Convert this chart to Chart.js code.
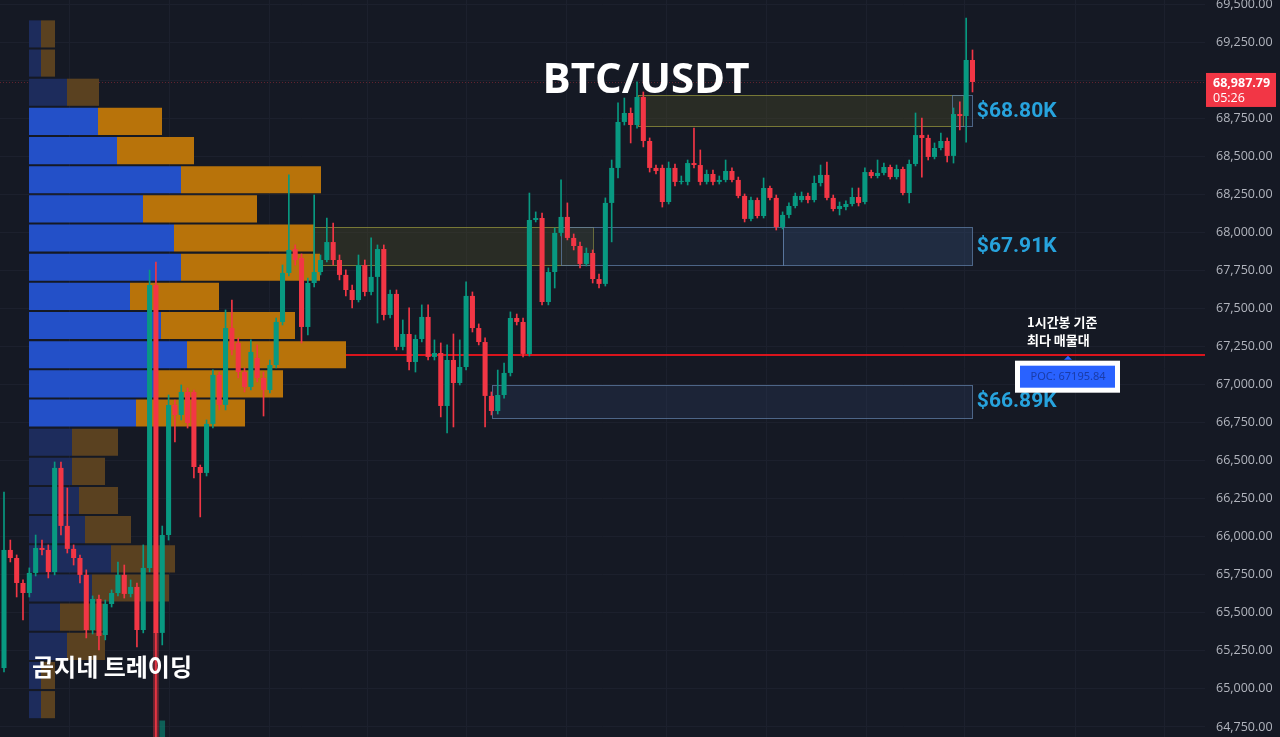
<!DOCTYPE html>
<html>
<head>
<meta charset="utf-8">
<title>BTC/USDT</title>
<script src="https://cdn.jsdelivr.net/npm/chart.js@4.4.1/dist/chart.umd.min.js"></script>
<style>
  html, body { margin: 0; padding: 0; background: #151924; overflow: hidden; }
  canvas { display: block; }
</style>
</head>
<body>
<canvas id="chart" width="1280" height="737"></canvas>
<script>
// 1h candles, BTC/USDT
const openP = [
  65137,65913,65860,65696,65630,65762,65926,65913,65768,66452,
  66071,65920,65860,65749,65387,65591,65354,65558,65630,65749,
  65624,65670,65387,65795,67654,65368,66011,66866,66800,66951,
  66951,66458,66419,66741,67063,66866,67371,67273,67082,66984,
  67174,67043,66964,67128,67411,67733,67890,67831,67378,67667,
  67739,67818,67936,67818,67720,67621,67555,67785,67608,67707,
  67890,67457,67595,67247,67332,67148,67299,67444,67181,67207,
  66859,67161,67010,67115,67582,67371,67279,66925,66826,66931,
  67076,67437,67411,67201,68081,68094,67542,67739,67996,68101,
  67963,67910,67792,67864,67693,67661,68193,68423,68725,68784,
  68705,68889,68600,68423,68423,68199,68423,68331,68331,68455,
  68442,68331,68383,68331,68344,68403,68344,68239,68088,68212,
  68107,68291,68226,68035,68114,68173,68212,68239,68212,68324,
  68377,68226,68153,68166,68186,68232,68199,68396,68370,68390,
  68429,68363,68416,68258,68449,68639,68620,68495,68554,68600,
  68502,68777,68764,69132
];
const highP = [
  66294,65978,65880,65716,65795,66011,65978,65946,66491,66491,
  66320,65946,65880,65782,65611,65617,65584,65650,65834,65814,
  65716,65696,65946,67752,67805,66070,66931,66898,66997,66977,
  66964,66471,66767,67096,67082,67490,67555,67306,67109,67293,
  67260,67082,67161,67437,67785,68377,67917,67858,67700,68245,
  67851,68094,68061,67851,67753,67654,67851,67818,67963,67917,
  67917,67621,67621,67424,67503,67325,67523,67523,67293,67273,
  67260,67332,67293,67674,67608,67398,67306,66951,67095,67141,
  67477,67463,67437,68258,68134,68127,67766,68029,68344,68193,
  67989,67936,67897,67884,67726,68226,68475,68850,68882,68817,
  68988,68922,68620,68442,68442,68462,68449,68370,68475,68685,
  68541,68409,68409,68370,68475,68423,68363,68252,68232,68226,
  68357,68304,68245,68134,68193,68258,68265,68258,68370,68442,
  68462,68245,68199,68206,68291,68291,68423,68409,68475,68455,
  68442,68442,68429,68475,68784,68751,68639,68587,68652,68620,
  68817,68857,69408,69198
];
const lowP = [
  65111,65834,65604,65453,65604,65742,65880,65729,65749,66011,
  65893,65814,65696,65335,65361,65256,65322,65538,65611,65597,
  65604,65276,65368,65768,64600,65289,65978,66622,66767,66714,
  66386,66130,66399,66714,66833,66833,67194,67043,66951,66964,
  67017,66793,66944,67109,67391,67713,67785,67273,67326,67641,
  67720,67805,67785,67687,67582,67503,67542,67582,67588,67404,
  67424,67437,67227,67227,67095,67082,67280,67161,67161,66787,
  66682,66721,66997,67095,67345,67260,66721,66800,66806,66911,
  67056,67391,67181,67187,68068,67523,67523,67634,67976,67950,
  67884,67766,67779,67667,67634,67647,67937,68357,68705,68587,
  68685,68561,68396,68383,68166,68186,68304,68317,68311,68423,
  68311,68317,68311,68317,68331,68331,68226,68068,68075,68094,
  68094,68212,68015,68022,68094,68160,68199,68193,68199,68304,
  68212,68140,68114,68147,68173,68173,68186,68357,68357,68377,
  68350,68350,68245,68193,68436,68363,68475,68482,68541,68462,
  68455,68672,68593,68922
];
const closeP = [
  65913,65860,65696,65630,65762,65926,65913,65768,66452,66071,
  65920,65860,65749,65387,65591,65348,65558,65630,65749,65624,
  65670,65387,65795,67654,65368,66011,66866,66800,66951,66747,
  66458,66419,66741,67063,66866,67371,67227,67082,66984,67214,
  67043,66964,67128,67411,67733,67884,67818,67378,67667,67739,
  67818,67936,67818,67720,67621,67555,67785,67608,67707,67890,
  67457,67595,67247,67332,67148,67299,67444,67181,67207,66859,
  67161,67010,67115,67582,67371,67279,66925,66826,66931,67076,
  67437,67411,67201,68081,68094,67542,67739,67996,68101,67963,
  67910,67792,67864,67693,67661,68193,68423,68725,68784,68705,
  68889,68600,68423,68403,68199,68423,68331,68337,68455,68442,
  68331,68383,68331,68344,68403,68344,68239,68088,68212,68107,
  68291,68226,68035,68114,68173,68239,68239,68212,68324,68377,
  68226,68153,68173,68186,68232,68193,68396,68370,68390,68429,
  68363,68416,68258,68449,68639,68620,68495,68554,68600,68502,
  68777,68764,69132,68987.79
];
const candleIndex = openP.map((_, i) => i + 1);

// Faded trail under the flush candles (candle index, from, to)
const trailIndex = [25, 26];
const trailFrom = [64600, 64600];
const trailTo = [65368, 64790];

// Volume profile bins (price centre of each row), buy and sell volume
const profilePrices = [
  69303.4,69111.8,68920.2,68728.6,68537.0,68345.4,68153.8,67962.2,
  67770.6,67579.0,67387.4,67195.8,67004.2,66812.6,66621.0,66429.4,
  66237.8,66046.2,65854.6,65663.0,65471.4,65279.8,65088.2,64896.6
];
const buyVolume = [
  120,120,380,690,880,1520,1140,1450,1520,1010,1320,1580,
  1280,1070,430,430,500,560,820,630,310,380,120,120
];
const sellVolume = [
  140,140,320,640,770,1400,1140,1400,1390,890,1340,1590,
  1260,1090,460,330,390,460,640,770,450,380,140,140
];
const valueAreaHigh = 68824;
const valueAreaLow = 66717;
const pocPrice = 67195.84;

// Price axis labels and time grid positions (candle index units)
const priceTicks = [
  64750,65000,65250,65500,65750,66000,66250,66500,66750,67000,
  67250,67500,67750,68000,68250,68500,68750,69000,69250,69500
];
const timeGridTicks = [11.4,27.2,42.9,58.5,74.1,89.9,105.7,121.4,137.2,152.8,170.2,184.3];

// Support / resistance zones: centre price and half height
const zoneLevels = [68800, 67910, 66890];
const zoneHalfRanges = [102, 128, 108];
// Boxes drawn for each zone: zone number, first and last candle index
const zoneBoxZone = [0, 0, 1, 1, 1, 2];
const zoneBoxFrom = [101.2, 150.8, 49.8, 89.0, 124.1, 78.1];
const zoneBoxTo = [152.5, 153.9, 94.0, 124.1, 153.9, 153.9];
const zoneLabelAt = 153.9;

const UP = '#089981';
const DOWN = '#f23645';
const BG = '#151924';
const GRID = '#1c202d';

const boxStyles = [
  { fill: 'rgba(80,80,40,0.35)', stroke: 'rgba(135,135,58,0.85)' },
  { fill: 'rgba(40,55,85,0.20)', stroke: 'rgba(95,125,165,0.75)' },
  { fill: 'rgba(80,80,40,0.35)', stroke: 'rgba(135,135,58,0.85)' },
  { fill: 'rgba(40,55,85,0.20)', stroke: 'rgba(95,125,165,0.75)' },
  { fill: 'rgba(50,72,110,0.40)', stroke: 'rgba(95,125,165,0.75)' },
  { fill: 'rgba(45,62,95,0.32)', stroke: 'rgba(95,125,165,0.75)' }
];

const candleColor = ctx => (closeP[ctx.dataIndex] >= openP[ctx.dataIndex] ? UP : DOWN);
const trailColor = ctx => {
  const i = trailIndex[ctx.dataIndex] - 1;
  return closeP[i] >= openP[i] ? 'rgba(8,153,129,0.55)' : 'rgba(242,54,69,0.42)';
};
const inValueArea = p => p <= valueAreaHigh && p >= valueAreaLow;

const bodies = candleIndex.map((x, i) => ({ x, y: [openP[i], closeP[i]] }));
const wicks = candleIndex.map((x, i) => ({ x, y: [lowP[i], highP[i]] }));
const trails = trailIndex.map((x, i) => ({ x, y: [trailFrom[i], trailTo[i]] }));
const buyBars = profilePrices.map((p, i) => ({ y: p, x: [0, buyVolume[i]] }));
const sellBars = profilePrices.map((p, i) => ({ y: p, x: [buyVolume[i], buyVolume[i] + sellVolume[i]] }));

const fmtPrice = v => v.toLocaleString('en-US', { minimumFractionDigits: 2, maximumFractionDigits: 2 });

const overlay = {
  id: 'overlay',
  beforeDatasetsDraw(chart) {
    const { ctx, chartArea: a, scales: { x, y } } = chart;
    ctx.save();
    ctx.beginPath();
    ctx.rect(a.left, a.top, a.right - a.left, a.bottom - a.top);
    ctx.clip();

    // last price line
    const lastY = Math.round(y.getPixelForValue(closeP[closeP.length - 1])) + 0.5;
    ctx.strokeStyle = 'rgba(242,54,69,0.35)';
    ctx.lineWidth = 1;
    ctx.setLineDash([1, 2]);
    ctx.beginPath();
    ctx.moveTo(a.left, lastY);
    ctx.lineTo(a.right, lastY);
    ctx.stroke();
    ctx.setLineDash([]);

    // zone boxes
    zoneBoxZone.forEach((z, i) => {
      const x0 = Math.round(x.getPixelForValue(zoneBoxFrom[i])) + 0.5;
      const x1 = Math.round(x.getPixelForValue(zoneBoxTo[i])) + 0.5;
      const y0 = Math.round(y.getPixelForValue(zoneLevels[z] + zoneHalfRanges[z])) + 0.5;
      const y1 = Math.round(y.getPixelForValue(zoneLevels[z] - zoneHalfRanges[z])) + 0.5;
      const st = boxStyles[i];
      ctx.fillStyle = st.fill;
      ctx.fillRect(x0, y0, x1 - x0, y1 - y0);
      ctx.strokeStyle = st.stroke;
      ctx.lineWidth = 1;
      ctx.strokeRect(x0, y0, x1 - x0, y1 - y0);
    });

    // point of control line
    const pocY = Math.round(y.getPixelForValue(pocPrice));
    const xv = chart.scales.xv;
    const px0 = xv.getPixelForValue(0);
    ctx.fillStyle = '#d9141c';
    ctx.fillRect(px0, pocY - 1, a.right - px0, 2);
    ctx.restore();
  },
  afterDraw(chart) {
    const { ctx, chartArea: a, scales: { x, y } } = chart;
    ctx.save();

    // zone price labels
    ctx.font = 'bold 21px Roboto, "Noto Sans", sans-serif';
    ctx.fillStyle = '#27a3dd';
    ctx.textAlign = 'left';
    ctx.textBaseline = 'middle';
    const lx = x.getPixelForValue(zoneLabelAt) + 5;
    zoneLevels.forEach(v => {
      ctx.fillText('$' + (v / 1000).toFixed(2) + 'K', lx, y.getPixelForValue(v) + 1);
    });

    // title
    ctx.font = 'bold 42px "Open Sans", "Noto Sans", sans-serif';
    ctx.fillStyle = '#ffffff';
    ctx.textAlign = 'center';
    ctx.fillText('BTC/USDT', 646, 81);

    // signature
    ctx.font = 'bold 24px "Noto Sans CJK KR", sans-serif';
    ctx.textAlign = 'left';
    ctx.fillText('곰지네 트레이딩', 32, 667);

    // POC note
    const pocY = y.getPixelForValue(pocPrice);
    const cx = a.right - 137;
    ctx.font = 'bold 13px "Noto Sans CJK KR", sans-serif';
    ctx.textBaseline = 'alphabetic';
    ctx.fillText('1시간봉 기준', 1027, pocY - 28);
    ctx.fillText('최다 매물대', 1027, pocY - 10);

    ctx.fillStyle = '#2962ff';
    ctx.beginPath();
    ctx.moveTo(cx - 4, pocY + 5);
    ctx.lineTo(cx, pocY + 1);
    ctx.lineTo(cx + 4, pocY + 5);
    ctx.closePath();
    ctx.fill();

    ctx.fillStyle = '#ffffff';
    ctx.fillRect(cx - 53, pocY + 6, 105, 32);
    ctx.fillStyle = '#2962ff';
    ctx.fillRect(cx - 48, pocY + 11, 95, 22);
    ctx.fillStyle = '#1a3ca8';
    ctx.font = '11px "Noto Sans", sans-serif';
    ctx.textAlign = 'center';
    ctx.textBaseline = 'middle';
    ctx.fillText('POC: ' + pocPrice.toFixed(2), cx, pocY + 22);

    // last price tag
    const last = closeP[closeP.length - 1];
    const ty = y.getPixelForValue(last);
    ctx.fillStyle = '#f23645';
    ctx.fillRect(a.right + 1, ty - 9, 70, 34);
    ctx.fillStyle = '#ffffff';
    ctx.textAlign = 'left';
    ctx.font = 'bold 12.5px "Open Sans", "Noto Sans", sans-serif';
    ctx.fillText(fmtPrice(last), a.right + 8, ty + 1);
    ctx.font = '12.5px "Open Sans", "Noto Sans", sans-serif';
    ctx.fillText('05:26', a.right + 8, ty + 16);
    ctx.restore();
  }
};

const bgPlugin = {
  id: 'bg',
  beforeDraw(chart) {
    const { ctx, width, height } = chart;
    ctx.save();
    ctx.fillStyle = BG;
    ctx.fillRect(0, 0, width, height);
    ctx.restore();
  }
};

new Chart(document.getElementById('chart'), {
  type: 'bar',
  data: {
    datasets: [
      {
        label: 'body',
        data: bodies,
        xAxisID: 'x', yAxisID: 'y',
        backgroundColor: candleColor,
        borderWidth: 0,
        borderSkipped: false,
        grouped: false,
        categoryPercentage: 1,
        barPercentage: 0.8,
        minBarLength: 1
      },
      {
        label: 'wick',
        data: wicks,
        xAxisID: 'x', yAxisID: 'y',
        backgroundColor: candleColor,
        borderWidth: 0,
        borderSkipped: false,
        grouped: false,
        barThickness: 1
      },
      {
        label: 'trail',
        data: trails,
        xAxisID: 'x', yAxisID: 'y',
        backgroundColor: trailColor,
        borderWidth: 0,
        borderSkipped: false,
        grouped: false,
        barThickness: 5
      },
      {
        label: 'buy',
        data: buyBars,
        indexAxis: 'y',
        xAxisID: 'xv', yAxisID: 'yv',
        backgroundColor: ctx => inValueArea(profilePrices[ctx.dataIndex]) ? '#2350c8' : '#1d2c5c',
        borderWidth: 0,
        borderSkipped: false,
        grouped: false,
        categoryPercentage: 1,
        barPercentage: 0.93
      },
      {
        label: 'sell',
        data: sellBars,
        indexAxis: 'y',
        xAxisID: 'xv', yAxisID: 'yv',
        backgroundColor: ctx => inValueArea(profilePrices[ctx.dataIndex]) ? '#b8730a' : '#5a4120',
        borderWidth: 0,
        borderSkipped: false,
        grouped: false,
        categoryPercentage: 1,
        barPercentage: 0.93
      }
    ]
  },
  options: {
    responsive: false,
    animation: false,
    devicePixelRatio: 1,
    layout: { padding: 0, autoPadding: false },
    plugins: { legend: { display: false }, tooltip: { enabled: false } },
    scales: {
      x: {
        type: 'linear',
        position: 'bottom',
        min: 0.368,
        max: 190.73,
        offset: false,
        grid: { color: GRID, drawTicks: false, offset: false },
        border: { display: false },
        ticks: { display: false },
        afterBuildTicks: s => { s.ticks = timeGridTicks.map(v => ({ value: v })); },
        afterFit: s => { s.height = 0; }
      },
      y: {
        type: 'linear',
        position: 'right',
        min: 64684,
        max: 69526.3,
        offset: false,
        beginAtZero: false,
        grid: { color: GRID, drawTicks: false, offset: false },
        border: { display: false },
        ticks: {
          color: '#b2b5be',
          padding: 11,
          font: { family: '"Open Sans", "Noto Sans", sans-serif', size: 12.5 },
          callback: v => fmtPrice(v)
        },
        afterBuildTicks: s => { s.ticks = priceTicks.map(v => ({ value: v })); },
        afterFit: s => { s.width = 75; s.paddingTop = 0; s.paddingBottom = 0; }
      },
      xv: {
        type: 'linear',
        axis: 'x',
        display: false,
        offset: false,
        grid: { offset: false },
        min: -290,
        max: 11760
      },
      yv: {
        type: 'linear',
        axis: 'y',
        display: false,
        offset: false,
        grid: { offset: false },
        beginAtZero: false,
        min: 64684,
        max: 69526.3
      }
    }
  },
  plugins: [bgPlugin, overlay]
});
</script>
</body>
</html>
